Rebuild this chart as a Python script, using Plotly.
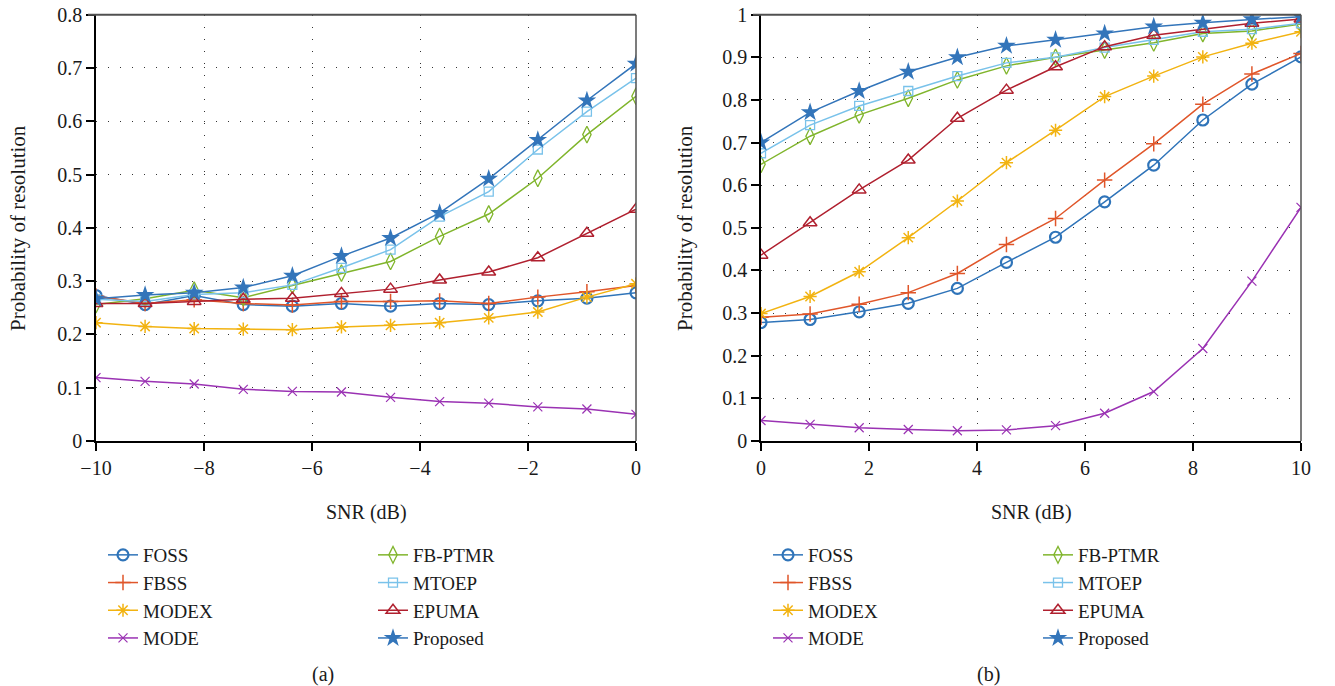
import plotly.graph_objects as go

# ---------------- data ----------------
names = ["FOSS", "FBSS", "MODEX", "MODE", "FB-PTMR", "MTOEP", "EPUMA", "Proposed"]

snr_a = [-10 + 10 * i / 11 for i in range(12)]
snr_b = [10 * i / 11 for i in range(12)]

# panel (a)
a_foss = [0.273, 0.256, 0.273, 0.256, 0.253, 0.258, 0.253, 0.258, 0.256, 0.263, 0.268, 0.278]
a_fbss = [0.272, 0.258, 0.265, 0.258, 0.255, 0.262, 0.262, 0.263, 0.258, 0.270, 0.280, 0.292]
a_modex = [0.222, 0.215, 0.211, 0.210, 0.209, 0.214, 0.217, 0.222, 0.231, 0.242, 0.270, 0.295]
a_mode = [0.119, 0.112, 0.107, 0.097, 0.093, 0.092, 0.082, 0.074, 0.071, 0.064, 0.060, 0.050]
a_fbptmr = [0.256, 0.267, 0.283, 0.269, 0.292, 0.315, 0.337, 0.384, 0.426, 0.493, 0.575, 0.647]
a_mtoep = [0.266, 0.262, 0.275, 0.278, 0.293, 0.325, 0.359, 0.421, 0.468, 0.547, 0.618, 0.681]
a_epuma = [0.258, 0.258, 0.262, 0.266, 0.268, 0.277, 0.285, 0.302, 0.317, 0.344, 0.390, 0.435]
a_prop = [0.267, 0.274, 0.278, 0.288, 0.310, 0.347, 0.381, 0.428, 0.492, 0.565, 0.639, 0.708]

# panel (b)
b_foss = [0.278, 0.285, 0.303, 0.323, 0.358, 0.419, 0.478, 0.561, 0.647, 0.753, 0.837, 0.901]
b_fbss = [0.290, 0.298, 0.321, 0.348, 0.393, 0.461, 0.522, 0.612, 0.697, 0.790, 0.861, 0.909]
b_modex = [0.299, 0.339, 0.397, 0.477, 0.563, 0.653, 0.729, 0.808, 0.856, 0.901, 0.933, 0.960]
b_mode = [0.048, 0.039, 0.031, 0.027, 0.024, 0.026, 0.036, 0.065, 0.116, 0.217, 0.375, 0.548]
b_fbptmr = [0.649, 0.715, 0.765, 0.804, 0.847, 0.880, 0.900, 0.917, 0.934, 0.956, 0.962, 0.978]
b_mtoep = [0.675, 0.741, 0.786, 0.821, 0.856, 0.887, 0.900, 0.923, 0.941, 0.960, 0.966, 0.980]
b_epuma = [0.436, 0.512, 0.589, 0.659, 0.757, 0.823, 0.878, 0.925, 0.952, 0.966, 0.980, 0.990]
b_prop = [0.700, 0.771, 0.821, 0.866, 0.900, 0.927, 0.941, 0.956, 0.972, 0.981, 0.989, 0.995]

x_ticks_a = [-10, -8, -6, -4, -2, 0]
x_ticks_b = [0, 2, 4, 6, 8, 10]

# ---------------- styles ----------------
colors = ["#2f74b9", "#e0562a", "#f2b311", "#9a32b3", "#80b52c", "#79c2ea", "#b0202f", "#3375ba"]
symbols = ["circle-open", "cross-thin-open", "asterisk-open", "x-thin-open",
           "diamond-tall-open", "square-open", "triangle-up-open", "star"]
msizes = [11, 11, 11, 9, 12, 9, 12, 14]
mlw = [2.2, 1.5, 1.5, 1.2, 1.3, 1.3, 1.5, 0]

FONT = "Liberation Serif, Times New Roman, serif"
TXT = "#1a1a1a"

fig = go.Figure()

panels = [
    ("x", "y", snr_a, [a_foss, a_fbss, a_modex, a_mode, a_fbptmr, a_mtoep, a_epuma, a_prop], ("legend", "legend2")),
    ("x2", "y2", snr_b, [b_foss, b_fbss, b_modex, b_mode, b_fbptmr, b_mtoep, b_epuma, b_prop], ("legend3", "legend4")),
]

for xa, ya, xs, series, legs in panels:
    for i, (nm, ys) in enumerate(zip(names, series)):
        fig.add_trace(go.Scatter(
            x=xs, y=ys, name=nm, mode="lines+markers",
            xaxis=xa, yaxis=ya,
            legend=legs[0] if i < 4 else legs[1],
            line=dict(color=colors[i], width=1.5),
            marker=dict(symbol=symbols[i], size=msizes[i], color=colors[i],
                        line=dict(color=colors[i], width=mlw[i])),
        ))

W, H = 1335, 686
def fx(px):
    return px / W
def fy(py):
    return 1 - py / H

# plot-area pixel geometry
LA = (96, 636)
RB = (761, 1301)
TOP, BOT = 14.7, 441

axis_common = dict(
    showline=True, linecolor="#000", linewidth=1.5, mirror=False,
    ticks="outside", ticklen=8, tickcolor="#000", tickwidth=1.5,
    showgrid=True, gridcolor="#333", gridwidth=1, griddash="1px,11px",
    zeroline=False, automargin=False, ticklabeloverflow="allow",
    tickfont=dict(family=FONT, size=20, color=TXT),
)

fig.update_layout(
    template="none",
    width=W, height=H,
    margin=dict(l=0, r=0, t=0, b=0, pad=0, autoexpand=False),
    paper_bgcolor="white", plot_bgcolor="white",
    font=dict(family=FONT, size=20, color=TXT),
    xaxis=dict(domain=[fx(LA[0]), fx(LA[1])], range=[-10, 0], tickvals=x_ticks_a,
               anchor="y", **axis_common),
    yaxis=dict(domain=[fy(BOT), fy(TOP)], range=[0, 0.8], dtick=0.1,
               anchor="x", **axis_common),
    xaxis2=dict(domain=[fx(RB[0]), fx(RB[1])], range=[0, 10], tickvals=x_ticks_b,
                anchor="y2", **axis_common),
    yaxis2=dict(domain=[fy(BOT), fy(TOP)], range=[0, 1], dtick=0.1,
                anchor="x2", **axis_common),
)

# top/right box lines in dark grey
for (x0, x1) in [LA, RB]:
    fig.add_shape(type="line", xref="paper", yref="paper", x0=fx(x0 - 8), x1=fx(x1),
                  y0=fy(TOP), y1=fy(TOP), line=dict(color="#505050", width=2))
    fig.add_shape(type="line", xref="paper", yref="paper", x0=fx(x1), x1=fx(x1),
                  y0=fy(TOP), y1=fy(BOT), line=dict(color="#505050", width=1.5))

leg_common = dict(
    bgcolor="rgba(0,0,0,0)", borderwidth=0, orientation="v",
    xanchor="left", yanchor="top", tracegroupgap=0, itemwidth=30,
    font=dict(family=FONT, size=19, color=TXT),
)
LEG_TOP = 536
fig.update_layout(
    legend=dict(x=fx(103), y=fy(LEG_TOP), **leg_common),
    legend2=dict(x=fx(373), y=fy(LEG_TOP), **leg_common),
    legend3=dict(x=fx(768), y=fy(LEG_TOP), **leg_common),
    legend4=dict(x=fx(1038), y=fy(LEG_TOP), **leg_common),
)

ann = [
    dict(text="Probability of resolution", x=fx(18), y=fy(228), textangle=-90, size=21),
    dict(text="Probability of resolution", x=fx(685), y=fy(228), textangle=-90, size=21),
    dict(text="SNR (dB)", x=fx(366), y=fy(512), size=20),
    dict(text="SNR (dB)", x=fx(1031), y=fy(512), size=20),
    dict(text="(a)", x=fx(323), y=fy(674), size=20),
    dict(text="(b)", x=fx(988), y=fy(674), size=20),
]
for a in ann:
    sz = a.pop("size")
    fig.add_annotation(xref="paper", yref="paper", showarrow=False,
                       xanchor="center", yanchor="middle",
                       font=dict(family=FONT, size=sz, color=TXT), **a)

# remove the browser's default 8px body margin so the figure fills the window exactly
fig.write_html("out.html", config={"displayModeBar": False},
               post_script="document.body.style.margin='0px';")
